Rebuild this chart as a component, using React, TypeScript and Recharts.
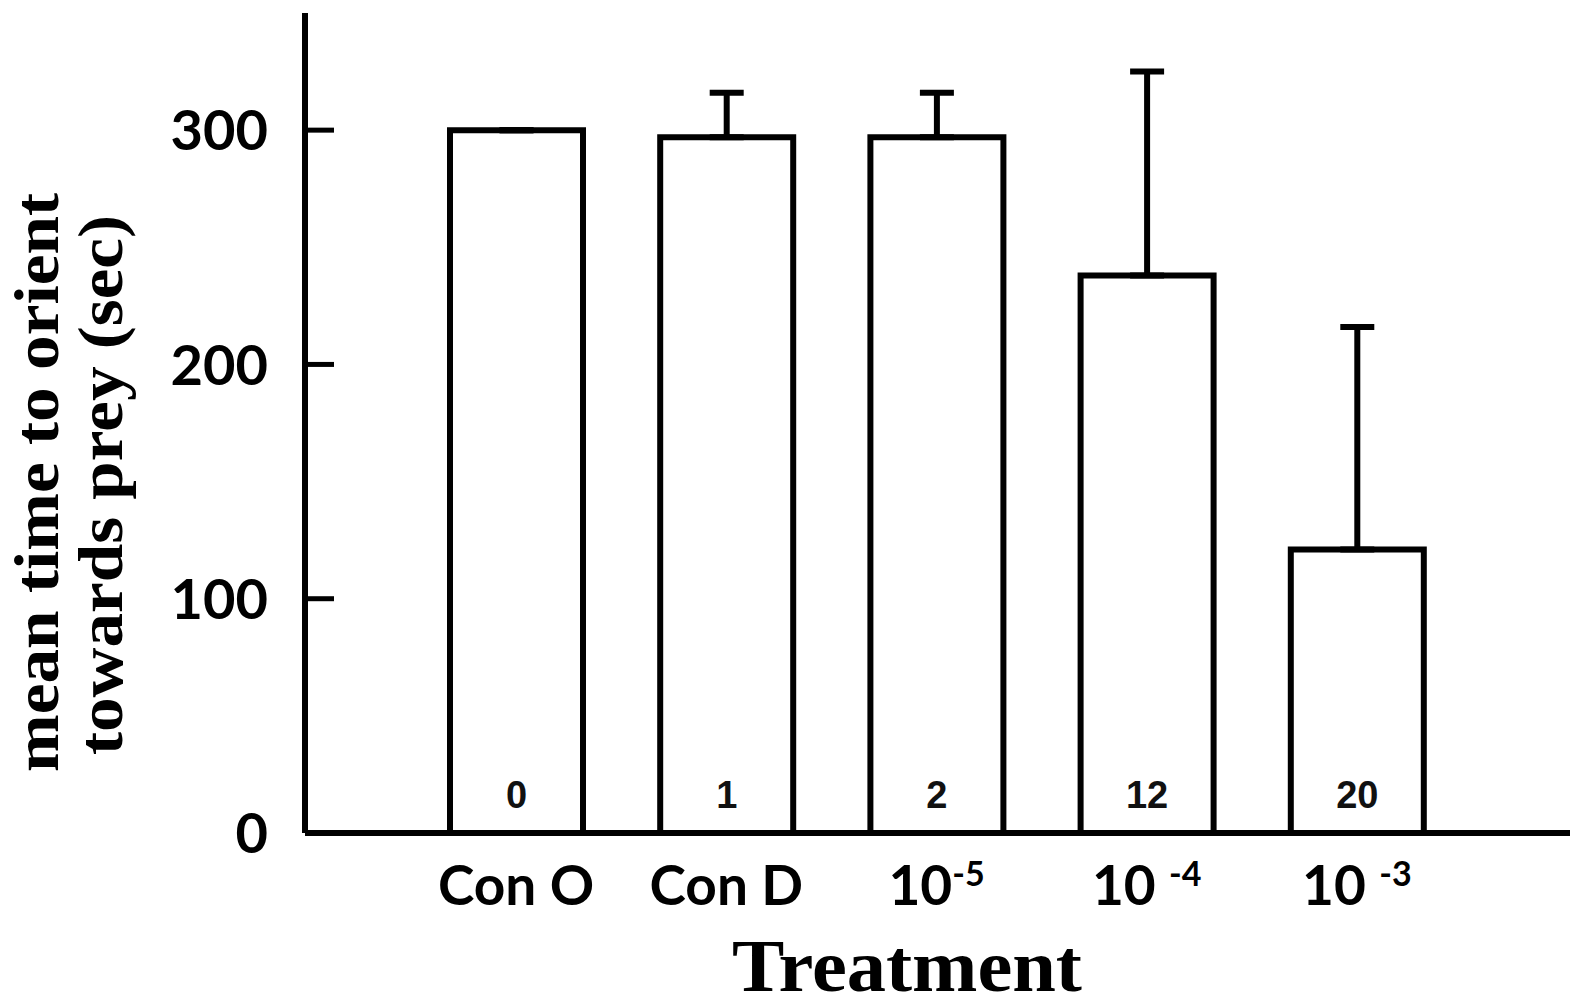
import React from 'react';
import { BarChart, Bar, XAxis, YAxis, ErrorBar, LabelList, Label } from 'recharts';

// ---- data ----
const categories = ['Con O', 'Con D', '10^-5', '10 ^-4', '10 ^-3'];
const meanTimes = [300, 297, 297, 238, 121];
const errorUp = [0, 19, 19, 87, 95];
const sampleCounts = ['0', '1', '2', '12', '20'];
const yTicks = [0, 100, 200, 300];
const yLabelLines = ['mean time to orient', 'towards prey (sec)'];
const xLabel = 'Treatment';

const data = categories.map((c, i) => ({
  name: c,
  value: meanTimes[i],
  err: [0, errorUp[i]],
  n: sampleCounts[i],
}));

const SANS = 'Lato, "Open Sans", sans-serif';
const SERIF = '"Liberation Serif", "DejaVu Serif", serif';

const YTick = (props: any) => {
  const { x, y, payload } = props;
  return (
    <g>
      {payload.value !== 0 && (
        <line x1={x} x2={x + 31} y1={y} y2={y} stroke="#000" strokeWidth={5} />
      )}
      <text
        x={x - 35}
        y={y}
        dy="0.36em"
        textAnchor="end"
        fontFamily={SANS}
        fontWeight={700}
        fontSize={56}
        fill="#000"
      >
        {payload.value}
      </text>
    </g>
  );
};

const XTick = (props: any) => {
  const { x, y, payload } = props;
  const [base, sup] = String(payload.value).split('^');
  return (
    <text
      x={x}
      y={y + 70}
      textAnchor="middle"
      fontFamily={SANS}
      fontWeight={700}
      fontSize={55}
      fill="#000"
      style={{ whiteSpace: 'pre' }}
    >
      <tspan>{base}</tspan>
      {sup && (
        <tspan fontSize={34} dy={-19}>
          {sup}
        </tspan>
      )}
    </text>
  );
};

const CountLabel = (p: any) => (
  <text
    x={p.x + p.width / 2}
    y={p.y + p.height - 25}
    textAnchor="middle"
    fontFamily='"Liberation Sans", Arial, sans-serif'
    fontWeight={700}
    fontSize={38}
    fill="#111"
  >
    {p.value}
  </text>
);

export default function App() {
  return (
    <div style={{ position: 'absolute', left: 0, top: 0, background: '#fff' }}>
      <BarChart
        width={1570}
        height={1001}
        data={data}
        margin={{ top: 13, right: 0, left: 0, bottom: 0 }}
        barSize={133}
      >
        <XAxis
          dataKey="name"
          height={168}
          padding={{ left: 106, right: 108 }}
          axisLine={{ stroke: '#000', strokeWidth: 6 }}
          tickLine={false}
          tickSize={0}
          interval={0}
          tick={<XTick />}
        >
          <Label
            content={() => (
              <text
                x={907}
                y={991}
                textAnchor="middle"
                fontFamily={SERIF}
                fontWeight={700}
                fontSize={74}
                fill="#000"
                textLength={350}
                lengthAdjust="spacingAndGlyphs"
              >
                {xLabel}
              </text>
            )}
          />
        </XAxis>
        <YAxis
          width={305}
          domain={[0, 350]}
          ticks={yTicks}
          interval={0}
          axisLine={{ stroke: '#000', strokeWidth: 6 }}
          tickLine={false}
          tickSize={0}
          tick={<YTick />}
        >
          <Label
            content={() => (
              <g>
                <text
                  transform="translate(58,482.5) rotate(-90)"
                  textAnchor="middle"
                  fontFamily={SERIF}
                  fontWeight={700}
                  fontSize={63}
                  fill="#000"
                  textLength={579}
                  lengthAdjust="spacingAndGlyphs"
                >
                  {yLabelLines[0]}
                </text>
                <text
                  transform="translate(122,485) rotate(-90)"
                  textAnchor="middle"
                  fontFamily={SERIF}
                  fontWeight={700}
                  fontSize={63}
                  fill="#000"
                  textLength={540}
                  lengthAdjust="spacingAndGlyphs"
                >
                  {yLabelLines[1]}
                </text>
              </g>
            )}
          />
        </YAxis>
        <Bar
          dataKey="value"
          fill="#fff"
          stroke="#000"
          strokeWidth={6}
          isAnimationActive={false}
        >
          <ErrorBar dataKey="err" direction="y" width={17} stroke="#000" strokeWidth={6} />
          <LabelList dataKey="n" content={<CountLabel />} />
        </Bar>
      </BarChart>
    </div>
  );
}
